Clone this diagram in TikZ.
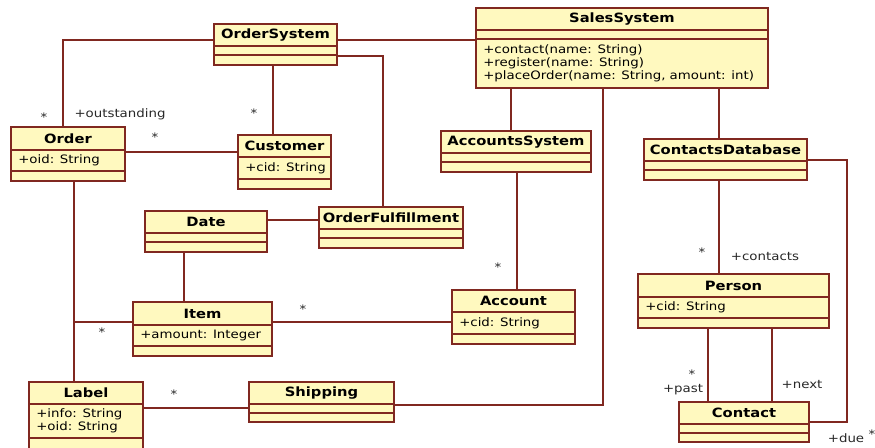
\documentclass[tikz,border=0pt]{standalone}
\usepackage{fontspec}
\setmainfont[FakeStretch=1.15]{DejaVu Sans}
\usetikzlibrary{fit}

\definecolor{clsfill}{RGB}{255,249,191}
\definecolor{clsline}{RGB}{128,40,32}
\definecolor{roletext}{RGB}{40,40,40}

\tikzset{
  classbox/.style={draw=clsline, fill=clsfill, line width=1pt, inner sep=0pt},
  compline/.style={draw=clsline, line width=1pt},
  clstitle/.style={font=\fontsize{9.6}{11}\selectfont\bfseries, text=black, inner sep=0pt},
  clsattr/.style={font=\fontsize{8.7}{9.8}\selectfont, align=left, anchor=west, inner sep=0pt, text=black},
  assoc/.style={draw=clsline, line width=1pt},
  role/.style={font=\fontsize{8.7}{9.8}\selectfont, text=roletext, inner sep=0pt},
}

% class box: name, x1, y1, x2, y2, first line y, second line y, title, attributes
\newcommand{\umlclass}[9]{%
  \node[classbox, fit={(#2,#3) (#4,#5)}] (#1) {};
  \draw[compline] (#2,#6) -- (#4,#6);
  \draw[compline] (#2,#7) -- (#4,#7);
  \node[clstitle] (#1-name) at ({(#2+#4)/2},{(#3+#6)/2}) {#8};
  \node[clsattr] (#1-attr) at ({#2+7},{(#6+#7)/2}) {#9};
}

\begin{document}
\begin{tikzpicture}[x=0.75pt,y=0.75pt,yscale=-1,xscale=1]
\fill[white] (0,0) rectangle (875,448);
\clip (0,0) rectangle (875,448);

% Classes
\umlclass{ordersys}{214}{24}{337}{65}{46}{55}{OrderSystem}{}
\umlclass{sales}{476}{8}{768}{88}{30}{39}{SalesSystem}{}
\node[clsattr] (sales-ops) at (483,63.5) {+contact(name: String)\\+register(name: String)\\+placeOrder(name: String, amount: int)};
\umlclass{order}{11}{127}{125}{181}{150}{171}{Order}{+oid: String}
\umlclass{customer}{238}{135}{331}{189}{157}{179}{Customer}{+cid: String}
\umlclass{accsys}{441}{131}{591}{172}{153}{162}{AccountsSystem}{}
\umlclass{contactsdb}{644}{139}{807}{180}{161}{170}{ContactsDatabase}{}
\umlclass{date}{145}{211}{267}{252}{233}{242}{Date}{}
\umlclass{fulfil}{319}{207}{463}{248}{229}{238}{OrderFulfillment}{}
\umlclass{item}{133}{302}{272}{356}{325}{346}{Item}{+amount: Integer}
\umlclass{label}{29}{382}{143}{460}{404}{438}{Label}{+info: String\\+oid: String}
\umlclass{shipping}{249}{382}{394}{422}{404}{413}{Shipping}{}
\umlclass{account}{452}{290}{575}{344}{312}{334}{Account}{+cid: String}
\umlclass{person}{638}{274}{829}{328}{297}{318}{Person}{+cid: String}
\umlclass{contact}{679}{402}{809}{442}{424}{433}{Contact}{}

% Associations
\coordinate (itemjoin) at (74,322);
\coordinate (duecorner) at (847,422);
\draw[assoc] (ordersys.west |- 0,40) -| (order.north -| 63,0);
\draw[assoc] (ordersys.east |- 0,40) -- (sales.west |- 0,40);
\draw[assoc] (ordersys.south -| 273,0) -- (customer.north -| 273,0);
\draw[assoc] (ordersys.east |- 0,56) -| (fulfil.north -| 383,0);
\draw[assoc] (order.east |- 0,152) -- (customer.west |- 0,152);
\draw[assoc] (order.south -| 74,0) -- (label.north -| 74,0);
\draw[assoc] (item.west |- 0,322) -- (itemjoin);
\draw[assoc] (date.south -| 184,0) -- (item.north -| 184,0);
\draw[assoc] (date.east |- 0,220) -- (fulfil.west |- 0,220);
\draw[assoc] (item.east |- 0,322) -- (account.west |- 0,322);
\draw[assoc] (accsys.south -| 517,0) -- (account.north -| 517,0);
\draw[assoc] (sales.south -| 511,0) -- (accsys.north -| 511,0);
\draw[assoc] (sales.south -| 603,0) |- (shipping.east |- 0,405);
\draw[assoc] (sales.south -| 719,0) -- (contactsdb.north -| 719,0);
\draw[assoc] (contactsdb.south -| 719,0) -- (person.north -| 719,0);
\draw[assoc] (contactsdb.east |- 0,160) -| (duecorner) -- (contact.east |- duecorner);
\draw[assoc] (person.south -| 708,0) -- (contact.north -| 708,0);
\draw[assoc] (person.south -| 772,0) -- (contact.north -| 772,0);
\draw[assoc] (label.east |- 0,408) -- (shipping.west |- 0,408);

% Multiplicities and roles
\node[role] (m-order) at (44,117) {*};
\node[role] (r-outstanding) at (120,114) {+outstanding};
\node[role] (m-customer) at (254,113) {*};
\node[role] (m-ordercust) at (155,137) {*};
\node[role] (m-itemorder) at (102,332) {*};
\node[role] (m-itemacc) at (303,309) {*};
\node[role] (m-account) at (498,267) {*};
\node[role] (m-person) at (702,252) {*};
\node[role] (r-contacts) at (765,257) {+contacts};
\node[role] (m-past) at (692,374) {*};
\node[role] (r-past) at (683,390) {+past};
\node[role] (r-next) at (802,385) {+next};
\node[role] (r-due) at (846,438) {+due};
\node[role] (m-due) at (872,434) {*};
\node[role] (m-shipping) at (174,394) {*};

\end{tikzpicture}
\end{document}
